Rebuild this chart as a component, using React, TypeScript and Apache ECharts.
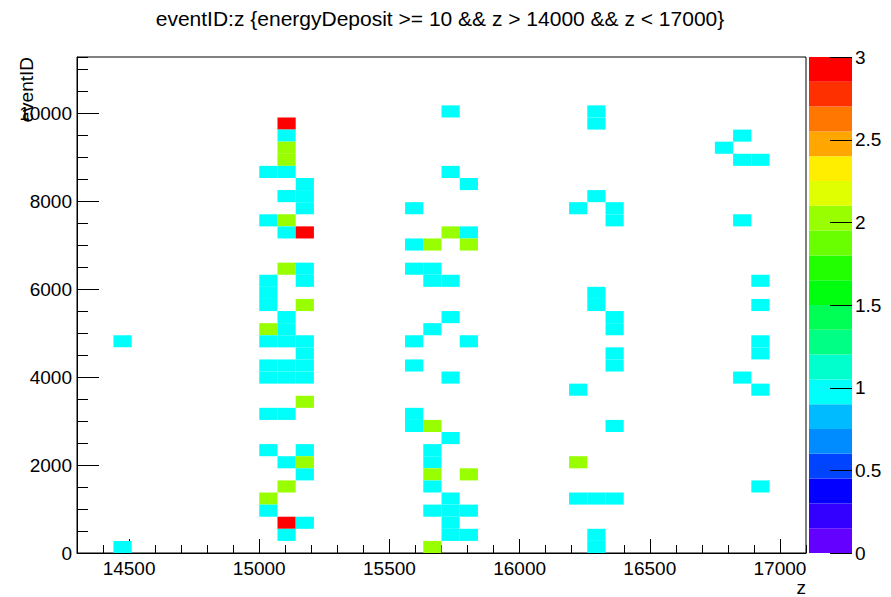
import React, { useEffect, useRef } from "react";
import * as echarts from "echarts";

// Histogram binning (ROOT TTree::Draw auto-binning)
const Z_MIN = 14300;
const Z_MAX = 17100;
const Z_BIN = 70;
const EVT_MIN = 0;
const EVT_MAX = 11275;
const EVT_BIN = 275;

const TITLE = "eventID:z {energyDeposit >= 10 && z > 14000 && z < 17000}";
const X_TITLE = "z";
const Y_TITLE = "eventID";

// Filled bins: [z bin low edge, eventID bin low edge, entries]
const cells: [number, number, number][] = [
  // z ~ 14440
  [14440, 0, 1], [14440, 4675, 1],
  // z ~ 15000
  [15000, 8525, 1], [15000, 7425, 1], [15000, 6050, 1], [15000, 5775, 1], [15000, 5500, 1],
  [15000, 4950, 2], [15000, 4675, 1], [15000, 4125, 1], [15000, 3850, 1], [15000, 3025, 1],
  [15000, 2200, 1], [15000, 1100, 2], [15000, 825, 1],
  // z ~ 15070
  [15070, 9625, 3], [15070, 9350, 1], [15070, 9075, 2], [15070, 8800, 2], [15070, 8525, 1],
  [15070, 7975, 1], [15070, 7425, 2], [15070, 7150, 1], [15070, 6325, 2], [15070, 5225, 1],
  [15070, 4950, 1], [15070, 4675, 1], [15070, 4125, 1], [15070, 3850, 1], [15070, 3025, 1],
  [15070, 1925, 1], [15070, 1375, 2], [15070, 550, 3], [15070, 275, 1],
  // z ~ 15140
  [15140, 8250, 1], [15140, 7975, 1], [15140, 7700, 1], [15140, 7150, 3], [15140, 6325, 1],
  [15140, 6050, 1], [15140, 5500, 2], [15140, 4675, 1], [15140, 4400, 1], [15140, 4125, 1],
  [15140, 3850, 1], [15140, 3300, 2], [15140, 2200, 1], [15140, 1925, 2], [15140, 1650, 1],
  [15140, 550, 1],
  // z ~ 15560
  [15560, 7700, 1], [15560, 6875, 1], [15560, 6325, 1], [15560, 4675, 1], [15560, 4125, 1],
  [15560, 3025, 1], [15560, 2750, 1],
  // z ~ 15630
  [15630, 6875, 2], [15630, 6325, 1], [15630, 6050, 1], [15630, 4950, 1], [15630, 2750, 2],
  [15630, 2200, 1], [15630, 1925, 1], [15630, 1650, 2], [15630, 1375, 1], [15630, 825, 1],
  [15630, 0, 2],
  // z ~ 15700
  [15700, 9900, 1], [15700, 8525, 1], [15700, 7150, 2], [15700, 6050, 1], [15700, 5225, 1],
  [15700, 3850, 1], [15700, 2475, 1], [15700, 1100, 1], [15700, 825, 1], [15700, 550, 1],
  [15700, 275, 1],
  // z ~ 15770
  [15770, 8250, 1], [15770, 7150, 1], [15770, 6875, 2], [15770, 4675, 1], [15770, 1650, 2],
  [15770, 825, 1], [15770, 275, 1],
  // z ~ 16190
  [16190, 7700, 1], [16190, 3575, 1], [16190, 1925, 2], [16190, 1100, 1],
  // z ~ 16260
  [16260, 9900, 1], [16260, 9625, 1], [16260, 7975, 1], [16260, 5775, 1], [16260, 5500, 1],
  [16260, 1100, 1], [16260, 275, 1], [16260, 0, 1],
  // z ~ 16330
  [16330, 7700, 1], [16330, 7425, 1], [16330, 5225, 1], [16330, 4950, 1], [16330, 4400, 1],
  [16330, 4125, 1], [16330, 2750, 1], [16330, 1100, 1],
  // z ~ 16750 - 16890
  [16750, 9075, 1],
  [16820, 9350, 1], [16820, 8800, 1], [16820, 7425, 1], [16820, 3850, 1],
  [16890, 8800, 1], [16890, 6050, 1], [16890, 5500, 1], [16890, 4675, 1], [16890, 4400, 1],
  [16890, 3575, 1], [16890, 1375, 1],
];

// Colour scale: 20 contours from 0 to 3
const Z_SCALE_MIN = 0;
const Z_SCALE_MAX = 3;
const CONTOUR_LEVELS = [
  0, 0.15, 0.3, 0.45, 0.6, 0.75, 0.9, 1.05, 1.2, 1.35,
  1.5, 1.65, 1.8, 1.95, 2.1, 2.25, 2.4, 2.55, 2.7, 2.85,
];
const CONTOUR_STEP = 0.15;
const COLORBAR_TICKS = [0, 0.5, 1, 1.5, 2, 2.5, 3];

// ROOT "pretty" palette sampled at 20 contours
const PALETTE = [
  "#6300FF", "#3300FF", "#0300FF", "#0044FF", "#008BFF",
  "#00BBFF", "#00FFFB", "#00FFCC", "#00FF85", "#00FF55",
  "#00FF0E", "#22FF00", "#69FF00", "#99FF00", "#E0FF00",
  "#FFEE00", "#FFA700", "#FF7700", "#FF3000", "#FF0000",
];

const FONT = "'Liberation Sans', Arial, Helvetica, sans-serif";

function colorFor(v: number): string {
  let k = Math.floor(0.01 + (v - Z_SCALE_MIN) / CONTOUR_STEP);
  if (k < 0) k = 0;
  if (k > PALETTE.length - 1) k = PALETTE.length - 1;
  return PALETTE[k];
}

const plain = (v: number) => String(v);

export default function App() {
  const ref = useRef<HTMLDivElement>(null);

  useEffect(() => {
    if (!ref.current) return;
    const chart = echarts.init(ref.current, undefined, { renderer: "svg" });
    const axisLine = { show: true, onZero: false, lineStyle: { color: "#000", width: 1 } };
    const label = { color: "#000", fontSize: 19, fontFamily: FONT, formatter: plain };

    const option: any = {
      animation: false,
      backgroundColor: "#fff",
      textStyle: { fontFamily: FONT },
      grid: [
        {
          left: 77, top: 57, width: 729, height: 496,
          show: true, borderColor: "#000", borderWidth: 1, backgroundColor: "transparent",
        },
        { left: 809, top: 57, width: 43, height: 496 },
      ],
      xAxis: [
        {
          gridIndex: 0, type: "value", min: Z_MIN, max: Z_MAX, splitNumber: 5, position: "bottom",
          axisLine,
          axisTick: { show: true, inside: true, length: 14, lineStyle: { color: "#000" } },
          axisLabel: { ...label, margin: 7, lineHeight: 16, showMinLabel: false, showMaxLabel: false },
          splitLine: { show: false },
        },
        {
          gridIndex: 0, type: "value", min: Z_MIN, max: Z_MAX, interval: 100, position: "bottom",
          axisLine: { show: false, onZero: false },
          axisTick: { show: true, inside: true, length: 8, lineStyle: { color: "#000" } },
          axisLabel: { show: false },
          splitLine: { show: false },
        },
        { gridIndex: 1, type: "value", min: 0, max: 1, show: false },
      ],
      yAxis: [
        {
          gridIndex: 0, type: "value", min: EVT_MIN, max: EVT_MAX, interval: 2000, position: "left",
          axisLine,
          axisTick: { show: true, inside: true, length: 22, lineStyle: { color: "#000" } },
          axisLabel: { ...label, margin: 5, showMaxLabel: false },
          splitLine: { show: false },
        },
        {
          gridIndex: 0, type: "value", min: EVT_MIN, max: EVT_MAX, interval: 500, position: "left",
          axisLine: { show: false, onZero: false },
          axisTick: { show: true, inside: true, length: 11, lineStyle: { color: "#000" } },
          axisLabel: { show: false },
          splitLine: { show: false },
        },
        {
          gridIndex: 1, type: "value", min: Z_SCALE_MIN, max: Z_SCALE_MAX, interval: 0.5, position: "right",
          axisLine: { show: false, onZero: false },
          axisTick: { show: false },
          axisLabel: { ...label, margin: 3 },
          splitLine: { show: false },
        },
      ],
      series: [
        {
          type: "custom",
          xAxisIndex: 0,
          yAxisIndex: 0,
          data: cells,
          silent: true,
          renderItem: (_params: any, api: any) => {
            const z0 = api.value(0);
            const e0 = api.value(1);
            const p1 = api.coord([z0, e0 + EVT_BIN]);
            const p2 = api.coord([z0 + Z_BIN, e0]);
            return {
              type: "rect",
              shape: { x: p1[0], y: p1[1], width: p2[0] - p1[0], height: p2[1] - p1[1] },
              style: { fill: colorFor(api.value(2)), stroke: null },
            };
          },
        },
        {
          type: "custom",
          xAxisIndex: 2,
          yAxisIndex: 2,
          silent: true,
          z: 1,
          data: CONTOUR_LEVELS.map((lv) => [lv]),
          renderItem: (params: any, api: any) => {
            const lv = api.value(0);
            const p1 = api.coord([0, lv + CONTOUR_STEP]);
            const p2 = api.coord([1, lv]);
            return {
              type: "rect",
              shape: { x: p1[0], y: p1[1], width: p2[0] - p1[0], height: p2[1] - p1[1] },
              style: { fill: PALETTE[params.dataIndex], stroke: null },
            };
          },
        },
        {
          type: "custom",
          xAxisIndex: 2,
          yAxisIndex: 2,
          silent: true,
          z: 5,
          data: COLORBAR_TICKS.map((t) => [t]),
          renderItem: (_params: any, api: any) => {
            const t = api.value(0);
            const p1 = api.coord([0.49, t]);
            const p2 = api.coord([1, t]);
            const y = Math.round(p1[1]) + 0.5;
            return {
              type: "line",
              shape: { x1: p1[0], y1: y, x2: p2[0], y2: y },
              style: { stroke: "#000", lineWidth: 1 },
            };
          },
        },
      ],
      graphic: [
        {
          type: "text", x: 440, y: 18,
          style: { text: TITLE, font: `21px ${FONT}`, fill: "#000", textAlign: "center", textVerticalAlign: "middle" },
        },
        {
          type: "text", x: 26, y: 57, rotation: Math.PI / 2,
          style: { text: Y_TITLE, font: `19px ${FONT}`, fill: "#000", textAlign: "right", textVerticalAlign: "middle" },
        },
        {
          type: "text", x: 806, y: 587,
          style: {
            text: X_TITLE, font: `19px ${FONT}`, lineHeight: 16, fill: "#000",
            textAlign: "right", textVerticalAlign: "middle",
          },
        },
      ],
    };
    chart.setOption(option);
    return () => chart.dispose();
  }, []);

  return (
    <div
      ref={ref}
      style={{ position: "fixed", left: 0, top: 0, width: 891, height: 597, background: "#fff" }}
    />
  );
}
